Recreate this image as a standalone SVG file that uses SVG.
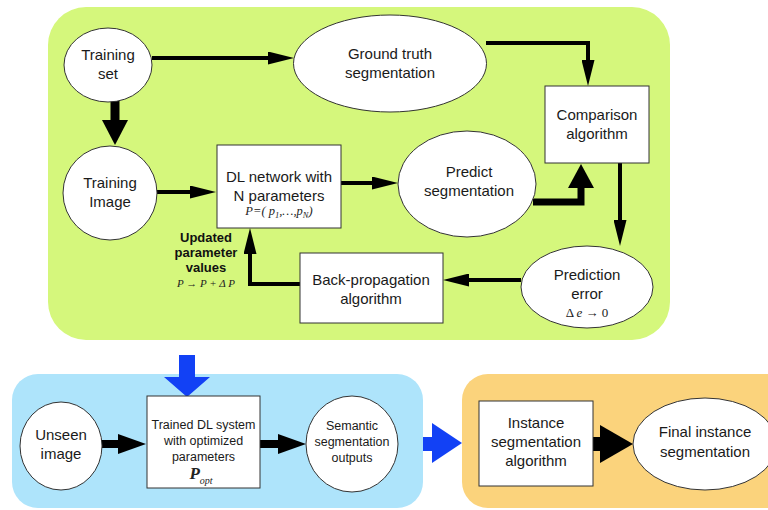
<svg xmlns="http://www.w3.org/2000/svg" width="768" height="510" viewBox="0 0 768 510">
<style>
.node{fill:#fff;stroke:#333;stroke-width:1}
.t{font-family:"Liberation Sans",Arial,sans-serif;font-size:15px;fill:#1a1a1a;text-anchor:middle}
.s{font-size:12.5px}
.b{font-family:"Liberation Sans",Arial,sans-serif;font-size:13px;font-weight:bold;fill:#111;text-anchor:middle}
.m{font-family:"Liberation Serif","Times New Roman",serif;fill:#222;text-anchor:middle}
.ln{fill:none;stroke:#000;stroke-width:4}
.ln8{fill:none;stroke:#000;stroke-width:8}
.blue{fill:#1241f5}
</style>
<defs>
<marker id="a" markerUnits="userSpaceOnUse" markerWidth="26" markerHeight="13" refX="2" refY="6.5" orient="auto">
<path d="M0,0 L26,6.5 L0,13 z" fill="#000"/>
</marker>
<marker id="h8" markerUnits="userSpaceOnUse" markerWidth="28" markerHeight="20" refX="2" refY="10" orient="auto">
<path d="M0,0 L28,10 L0,20 z" fill="#000"/>
</marker>
</defs>

<g id="panels">
<rect x="48" y="7" width="622" height="333" rx="38" fill="#d5f77c"/>
<rect x="12" y="374" width="411" height="134" rx="26" fill="#aee4fb"/>
<rect x="462" y="374" width="330" height="134" rx="26" fill="#fbd37c"/>
</g>

<g id="connectors">
<path class="ln" d="M152,58 H270" marker-end="url(#a)"/>
<path class="ln" d="M486,43 H588 V62" marker-end="url(#a)"/>
<path class="ln" d="M620,163 V222" marker-end="url(#a)"/>
<path class="ln" d="M521,280 H467" marker-end="url(#a)"/>
<path class="ln" d="M300,284 H250 V252" marker-end="url(#a)"/>
<path class="ln" d="M157,192 H192" marker-end="url(#a)"/>
<path class="ln" d="M341,183 H374" marker-end="url(#a)"/>
<path fill="none" stroke="#000" stroke-width="9" d="M115,101 V122"/>
<polygon points="102,120 128,120 115,145" fill="#000"/>
<path fill="none" stroke="#000" stroke-width="7" d="M533,202 H581 V186"/>
<polygon points="568,188 594,188 581,164" fill="#000"/>
<path class="ln8" d="M102,444 H120" marker-end="url(#h8)"/>
<path class="ln8" d="M260,444 H280" marker-end="url(#h8)"/>
<path fill="none" stroke="#000" stroke-width="14" d="M593,444 H602"/>
<polygon points="600,425 600,463 633,444" fill="#000"/>
<polygon class="blue" points="179,355 195,355 195,377 210,377 187,397 164,377 179,377"/>
<polygon class="blue" points="423,437 432,437 432,423 462,443 432,463 432,451 423,451"/>
</g>

<g id="training-set">
<ellipse class="node" cx="108" cy="65" rx="44" ry="37"/>
<text class="t" x="108" y="60">Training</text>
<text class="t" x="108" y="79">set</text>
</g>

<g id="ground-truth">
<ellipse class="node" cx="390" cy="63.5" rx="96.5" ry="48.5"/>
<text class="t" x="390" y="59">Ground truth</text>
<text class="t" x="390" y="78">segmentation</text>
</g>

<g id="comparison">
<rect class="node" x="545" y="86" width="104" height="77"/>
<text class="t" x="597" y="120">Comparison</text>
<text class="t" x="597" y="139">algorithm</text>
</g>

<g id="training-image">
<ellipse class="node" cx="110" cy="193" rx="47" ry="47"/>
<text class="t" x="110" y="188">Training</text>
<text class="t" x="110" y="207">Image</text>
</g>

<g id="dl-network">
<rect class="node" x="217" y="145" width="124" height="83"/>
<text class="t" x="279" y="182">DL network with</text>
<text class="t" x="279" y="201">N parameters</text>
<text class="m" x="279" y="215" font-size="12.5" font-style="italic">P=( p<tspan font-size="8.5" dy="3">1</tspan><tspan dy="-3">,…,p</tspan><tspan font-size="8.5" dy="3">N</tspan><tspan dy="-3">)</tspan></text>
</g>

<g id="predict">
<ellipse class="node" cx="467" cy="184" rx="69" ry="53"/>
<text class="t" x="469" y="177">Predict</text>
<text class="t" x="469" y="196">segmentation</text>
</g>

<g id="prediction-error">
<ellipse class="node" cx="587" cy="287" rx="66" ry="41"/>
<text class="t" x="587" y="280">Prediction</text>
<text class="t" x="587" y="299">error</text>
<text class="m" x="587" y="317" font-size="13">Δ <tspan font-style="italic">e</tspan> → 0</text>
</g>

<g id="back-propagation">
<rect class="node" x="300" y="253" width="143" height="70"/>
<text class="t" x="371" y="285">Back-propagation</text>
<text class="t" x="371" y="304">algorithm</text>
</g>

<g id="updated-label">
<text class="b" x="206" y="242">Updated</text>
<text class="b" x="206" y="257">parameter</text>
<text class="b" x="206" y="272">values</text>
<text class="m" x="206" y="287" font-size="11" font-style="italic">P → P +  Δ P</text>
</g>

<g id="unseen-image">
<ellipse class="node" cx="61" cy="446" rx="41" ry="44"/>
<text class="t" x="61" y="440">Unseen</text>
<text class="t" x="61" y="459">image</text>
</g>

<g id="trained-system">
<rect class="node" x="147" y="396" width="113" height="92"/>
<text class="t s" x="203.5" y="429">Trained DL system</text>
<text class="t s" x="203.5" y="445">with optimized</text>
<text class="t s" x="203.5" y="461">parameters</text>
<text class="m" x="201" y="479" font-size="17" font-weight="bold" font-style="italic">P<tspan font-size="10" font-weight="normal" dy="5">opt</tspan></text>
</g>

<g id="semantic-outputs">
<ellipse class="node" cx="352" cy="444" rx="46" ry="48"/>
<text class="t s" x="352" y="430">Semantic</text>
<text class="t s" x="352" y="446">segmentation</text>
<text class="t s" x="352" y="462">outputs</text>
</g>

<g id="instance-algorithm">
<rect class="node" x="479" y="401" width="114" height="85"/>
<text class="t" x="536" y="428">Instance</text>
<text class="t" x="536" y="447">segmentation</text>
<text class="t" x="536" y="466">algorithm</text>
</g>

<g id="final-instance">
<ellipse class="node" cx="705" cy="444" rx="72" ry="46"/>
<text class="t" x="705" y="437">Final instance</text>
<text class="t" x="705" y="457">segmentation</text>
</g>
</svg>
